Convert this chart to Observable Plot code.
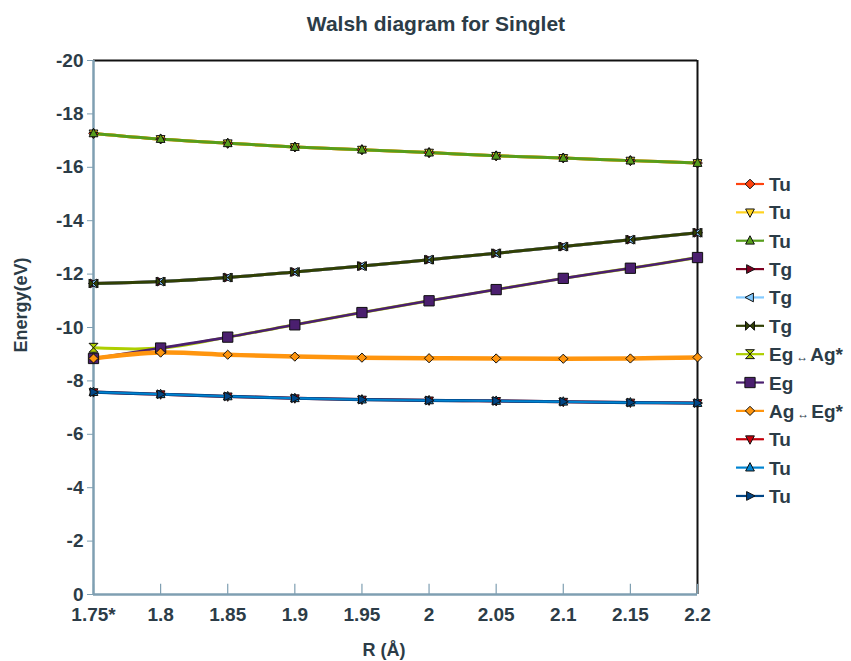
<!DOCTYPE html>
<html>
<head>
<meta charset="utf-8">
<script src="https://cdn.jsdelivr.net/npm/d3@7"></script>
<script src="https://cdn.jsdelivr.net/npm/@observablehq/plot@0.6"></script>
<style>
  html, body { margin: 0; padding: 0; background: #fff; }
  #chart { width: 851px; height: 661px; }
</style>
</head>
<body>
<div id="chart"></div>
<script>
// ---- data ----
const R = [1.75, 1.8, 1.85, 1.9, 1.95, 2.0, 2.05, 2.1, 2.15, 2.2];
const xTickLabels = ["1.75*", "1.8", "1.85", "1.9", "1.95", "2", "2.05", "2.1", "2.15", "2.2"];
const yTicks = [0, -2, -4, -6, -8, -10, -12, -14, -16, -18, -20];

const seriesNames = ["Tu", "Tu", "Tu", "Tg", "Tg", "Tg", "Eg\u2194Ag*", "Eg", "Ag\u2194Eg*", "Tu", "Tu", "Tu"];
const seriesColors = ["#ff420e", "#ffd320", "#579d1c", "#7e0021", "#83caff", "#314004", "#aecf00", "#4b1f6f", "#ff950e", "#c5000b", "#0084d1", "#004586"];

const tuHighA = [-17.27, -17.06, -16.90, -16.76, -16.66, -16.55, -16.43, -16.35, -16.25, -16.16];
const tuHighB = [-17.27, -17.06, -16.90, -16.76, -16.66, -16.55, -16.43, -16.35, -16.25, -16.16];
const tuHighC = [-17.27, -17.06, -16.90, -16.76, -16.66, -16.55, -16.43, -16.35, -16.25, -16.16];
const tgA = [-11.65, -11.72, -11.87, -12.08, -12.30, -12.54, -12.78, -13.03, -13.29, -13.55];
const tgB = [-11.65, -11.72, -11.87, -12.08, -12.30, -12.54, -12.78, -13.03, -13.29, -13.55];
const tgC = [-11.65, -11.72, -11.87, -12.08, -12.30, -12.54, -12.78, -13.03, -13.29, -13.55];
const egAgStar = [-9.24, -9.23, -9.64, -10.10, -10.56, -11.00, -11.42, -11.84, -12.22, -12.62];
const eg = [-8.84, -9.23, -9.64, -10.10, -10.56, -11.00, -11.42, -11.84, -12.22, -12.62];
const agEgStar = [-8.84, -9.06, -8.98, -8.91, -8.87, -8.85, -8.84, -8.83, -8.84, -8.88];
const tuLowA = [-7.58, -7.50, -7.42, -7.35, -7.30, -7.27, -7.25, -7.22, -7.19, -7.17];
const tuLowB = [-7.58, -7.50, -7.42, -7.35, -7.30, -7.27, -7.25, -7.22, -7.19, -7.17];
const tuLowC = [-7.58, -7.50, -7.42, -7.35, -7.30, -7.27, -7.25, -7.22, -7.19, -7.17];

const seriesValues = [tuHighA, tuHighB, tuHighC, tgA, tgB, tgC, egAgStar, eg, agEgStar, tuLowA, tuLowB, tuLowC];

// ---- marker shapes ----
function poly(pts) {
  return {
    draw(ctx, size) {
      const s = Math.sqrt(size) / 2;
      ctx.moveTo(pts[0][0] * s, pts[0][1] * s);
      for (let i = 1; i < pts.length; i++) ctx.lineTo(pts[i][0] * s, pts[i][1] * s);
      ctx.closePath();
    }
  };
}
const diamond = poly([[0, -1.3], [1.3, 0], [0, 1.3], [-1.3, 0]]);
const triUp = poly([[0, -1.25], [1.1, 0.85], [-1.1, 0.85]]);
const triDown = poly([[0, 1.25], [1.1, -0.85], [-1.1, -0.85]]);
const triRight = poly([[1.25, 0], [-0.85, -1.1], [-0.85, 1.1]]);
const triLeft = poly([[-1.25, 0], [0.85, -1.1], [0.85, 1.1]]);
const bowtie = poly([[-1.05, -1.05], [1.05, 1.05], [1.05, -1.05], [-1.05, 1.05]]);
const hourglass = poly([[-1.05, -1.05], [1.05, -1.05], [-1.05, 1.05], [1.05, 1.05]]);
const square = poly([[-1, -1], [1, -1], [1, 1], [-1, 1]]);

const seriesSymbols = [diamond, triDown, triUp, triRight, triLeft, bowtie, hourglass, square, diamond, triDown, triUp, triRight];
const seriesR = [4.2, 4.5, 4.5, 4.5, 4.5, 4.8, 4.8, 5.8, 4.0, 4.5, 4.5, 4.5];
const seriesWidth = [3, 3, 3, 3, 3, 3, 3, 2.6, 4.5, 3, 3, 3.2];
// order in which the lines are layered (last on top)
const lineOrder = [0, 1, 2, 3, 4, 5, 6, 7, 8, 9, 11, 10];
const lineWidthTop = {10: 1.8};

// ---- build ----
const axisColor = "#7f9fb2";
const textColor = "#2c3c47";

const rows = seriesValues.map((vals, s) => R.map((r, i) => ({r, e: vals[i], s})));

const marks = [
  Plot.ruleY([-20], {stroke: "#111", strokeWidth: 2}),
  Plot.ruleX([2.2], {stroke: "#111", strokeWidth: 2}),
  Plot.ruleX([1.75], {stroke: axisColor, strokeWidth: 2.5}),
  Plot.ruleY([0], {stroke: axisColor, strokeWidth: 2.5}),
  Plot.ruleX(R, {y1: 0, y2: -0.38, stroke: axisColor, strokeWidth: 1.2}),
  Plot.axisY({ticks: yTicks, tickFormat: d => String(d), tickSize: 6, tickPadding: 4, label: null,
              stroke: axisColor, fill: textColor}),
  Plot.axisX({ticks: R, tickFormat: d => xTickLabels[R.indexOf(d)], tickSize: 0, tickPadding: 4, dy: 9, label: null,
              fill: textColor})
];
lineOrder.forEach(s => {
  marks.push(Plot.line(rows[s], {x: "r", y: "e", stroke: seriesColors[s],
    strokeWidth: lineWidthTop[s] ?? seriesWidth[s], curve: "catmull-rom"}));
});
rows.forEach((data, s) => {
  marks.push(Plot.dot(data, {x: "r", y: "e", symbol: seriesSymbols[s], r: seriesR[s], fill: seriesColors[s], stroke: "#111", strokeWidth: 1}));
});

const chart = Plot.plot({
  width: 851,
  height: 661,
  marginLeft: 93,
  marginRight: 154,
  marginTop: 60,
  marginBottom: 67,
  x: {domain: [1.75, 2.2]},
  y: {domain: [0, -20]},
  style: {fontFamily: "'Liberation Sans', Arial, sans-serif", fontSize: "19px", fontWeight: "bold", background: "#fff", overflow: "visible"},
  marks
});

const svg = d3.select(chart);
// title
svg.append("text").attr("x", 436).attr("y", 31).attr("text-anchor", "middle")
  .attr("fill", textColor).style("font-size", "21px").style("font-weight", "bold")
  .text("Walsh diagram for Singlet");
// axis labels
svg.append("text").attr("transform", "translate(27,305) rotate(-90)").attr("text-anchor", "middle")
  .attr("fill", textColor).style("font-size", "18px").style("font-weight", "bold")
  .text("Energy(eV)");
svg.append("text").attr("x", 384).attr("y", 656).attr("text-anchor", "middle")
  .attr("fill", textColor).style("font-size", "18px").style("font-weight", "bold")
  .text("R (\u00c5)");

// legend
const lg = svg.append("g").attr("text-anchor", "start");
seriesNames.forEach((name, s) => {
  const y = 184 + s * 28.36;
  const g = lg.append("g").attr("transform", `translate(0,${y})`);
  g.append("line").attr("x1", 736).attr("x2", 764).attr("y1", 0).attr("y2", 0)
    .attr("stroke", seriesColors[s]).attr("stroke-width", 2.2);
  g.append("path").attr("transform", "translate(750,0)")
    .attr("d", d3.symbol(seriesSymbols[s], Math.PI * seriesR[s] * seriesR[s])())
    .attr("fill", seriesColors[s]).attr("stroke", "#111").attr("stroke-width", 1);
  const t = g.append("text").attr("x", 769).attr("y", 7).attr("fill", textColor)
    .attr("text-anchor", "start")
    .style("font-size", "19px").style("font-weight", "bold");
  const parts = name.split("\u2194");
  if (parts.length === 2) {
    t.append("tspan").text(parts[0]);
    t.append("tspan").attr("dx", 3).style("font-size", "12px").style("font-weight", "normal").text("\u2194");
    t.append("tspan").attr("dx", 2).text(parts[1]);
  } else {
    t.text(name);
  }
});

document.getElementById("chart").appendChild(chart);
</script>
</body>
</html>
